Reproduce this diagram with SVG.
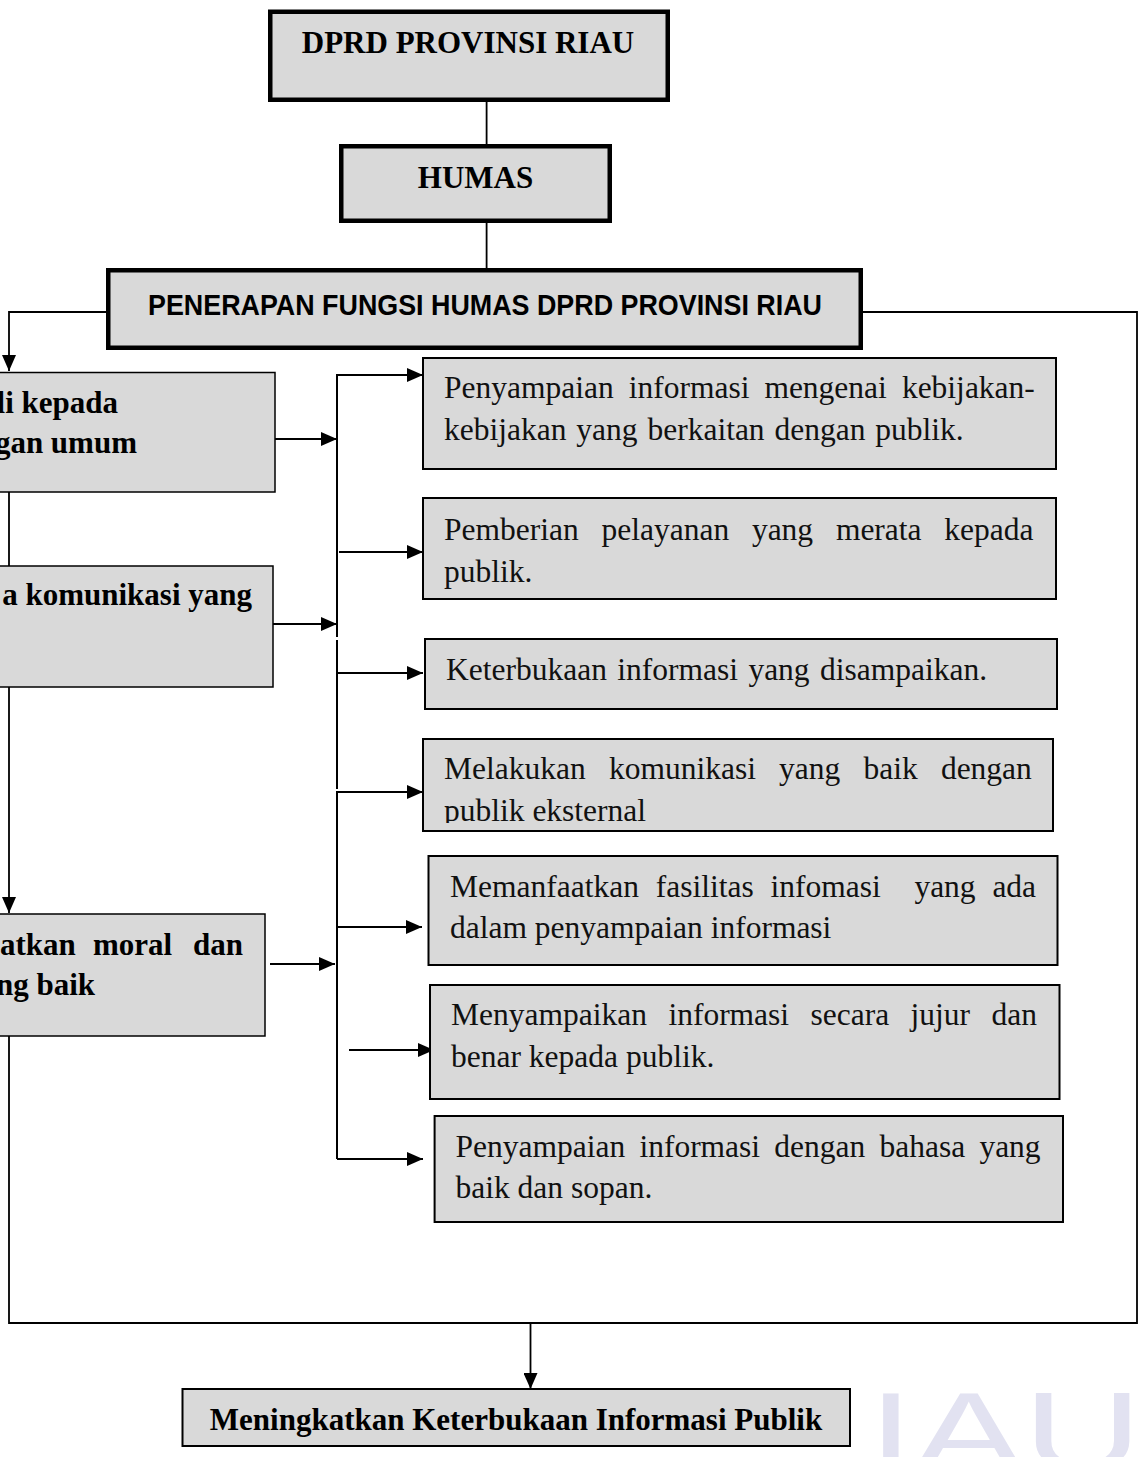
<svg xmlns="http://www.w3.org/2000/svg" width="1144" height="1457" viewBox="0 0 1144 1457">
<style>
.box{fill:#d9d9d9;stroke:#000;stroke-width:2}
.thick{fill:#d9d9d9;stroke:#000;stroke-width:4.5}
.thin{fill:#d9d9d9;stroke:#000;stroke-width:1.5}
.ln{fill:none;stroke:#000;stroke-width:2}
.fr{fill:none;stroke:#000;stroke-width:1.8}
.b{font-family:"Liberation Serif","Times New Roman",serif;font-weight:bold;font-size:31px;fill:#000}
.r{font-family:"Liberation Serif","Times New Roman",serif;font-size:31.5px;fill:#111}
.s{font-family:"Liberation Sans",Arial,sans-serif;font-weight:bold;font-size:30px;fill:#000}
</style>
<defs>
<marker id="ar" markerUnits="userSpaceOnUse" markerWidth="16" markerHeight="14" refX="16" refY="7" orient="auto">
<path d="M0,0 L16,7 L0,14 z" fill="#000"/>
</marker>
<clipPath id="c4"><rect x="423" y="739" width="630" height="84"/></clipPath>
</defs>
<rect width="1144" height="1457" fill="#fff"/>
<text x="868" y="1470" font-family="Liberation Sans,Arial,sans-serif" font-size="112" fill="#e2e2f1" textLength="274" lengthAdjust="spacingAndGlyphs">IAU</text>

<g id="connectors">
<path class="fr" d="M486.6,102 V144"/>
<path class="fr" d="M486.6,223 V268"/>
<path class="fr" d="M106,312 H9 V371" marker-end="url(#ar)"/>
<path class="fr" d="M9,492 V566"/>
<path class="fr" d="M9,687 V913" marker-end="url(#ar)"/>
<path class="fr" d="M863,312 H1137 V1323 H9 V1036"/>
<path class="fr" d="M530.5,1323 V1389" marker-end="url(#ar)"/>
<path class="ln" d="M337,637 V375 H423" marker-end="url(#ar)"/>
<path class="ln" d="M275,439 H337" marker-end="url(#ar)"/>
<path class="ln" d="M339,552 H423" marker-end="url(#ar)"/>
<path class="ln" d="M273,624 H337" marker-end="url(#ar)"/>
<path class="ln" d="M337,640 V789"/>
<path class="ln" d="M337,673 H423" marker-end="url(#ar)"/>
<path class="ln" d="M337,1159 V792 H423" marker-end="url(#ar)"/>
<path class="ln" d="M337,927 H422" marker-end="url(#ar)"/>
<path class="ln" d="M270,964 H335" marker-end="url(#ar)"/>
<path class="ln" d="M349,1050 H434" marker-end="url(#ar)"/>
<path class="ln" d="M337,1159 H423" marker-end="url(#ar)"/>
</g>

<g id="dprd">
<rect class="thick" x="270.25" y="11.75" width="397.5" height="88"/>
<text class="b" x="468" y="53" text-anchor="middle">DPRD PROVINSI RIAU</text>
</g>
<g id="humas">
<rect class="thick" x="341.25" y="146.25" width="268.5" height="74.5"/>
<text class="b" x="475.5" y="188" text-anchor="middle">HUMAS</text>
</g>
<g id="penerapan">
<rect class="thick" x="108.25" y="270.25" width="752.5" height="77.5"/>
<text class="s" x="148" y="315" textLength="674" lengthAdjust="spacingAndGlyphs">PENERAPAN FUNGSI HUMAS DPRD PROVINSI RIAU</text>
</g>

<g id="left-a">
<rect class="thin" x="-10" y="372.5" width="285" height="119.5"/>
<text class="b" x="118" y="413" text-anchor="end">li kepada</text>
<text class="b" x="137" y="453" text-anchor="end">gan umum</text>
</g>
<g id="left-b">
<rect class="thin" x="-10" y="566" width="283" height="121"/>
<text class="b" x="252" y="605" text-anchor="end">a komunikasi yang</text>
</g>
<g id="left-c">
<rect class="thin" x="-10" y="914" width="275" height="122"/>
<text class="b" y="955"><tspan x="0">atkan</tspan><tspan x="93">moral</tspan><tspan x="193">dan</tspan></text>
<text class="b" x="95" y="995" text-anchor="end">ng baik</text>
</g>

<g id="r1">
<rect class="box" x="423" y="358" width="633" height="111"/>
<text class="r" y="398"><tspan x="444">Penyampaian</tspan><tspan x="628.7">informasi</tspan><tspan x="764.4">mengenai</tspan><tspan x="901.9">kebijakan-</tspan></text>
<text class="r" x="444" y="440" word-spacing="2">kebijakan yang berkaitan dengan publik.</text>
</g>
<g id="r2">
<rect class="box" x="423" y="498" width="633" height="101"/>
<text class="r" y="540"><tspan x="444">Pemberian</tspan><tspan x="601.5">pelayanan</tspan><tspan x="751.9">yang</tspan><tspan x="835.9">merata</tspan><tspan x="944.3">kepada</tspan></text>
<text class="r" x="444" y="582">publik.</text>
</g>
<g id="r3">
<rect class="box" x="425" y="639" width="632" height="70"/>
<text class="r" x="446" y="680" word-spacing="2.5">Keterbukaan informasi yang disampaikan.</text>
</g>
<g id="r4">
<rect class="box" x="423" y="739" width="630" height="92"/>
<text class="r" y="779"><tspan x="444">Melakukan</tspan><tspan x="608.9">komunikasi</tspan><tspan x="779.1">yang</tspan><tspan x="863.5">baik</tspan><tspan x="940.9">dengan</tspan></text>
<text class="r" x="444" y="821" clip-path="url(#c4)">publik eksternal</text>
</g>
<g id="r5">
<rect class="box" x="428.5" y="856" width="629" height="109"/>
<text class="r" y="897"><tspan x="450">Memanfaatkan</tspan><tspan x="655.7">fasilitas</tspan><tspan x="770.5">infomasi</tspan><tspan x="914.4">yang</tspan><tspan x="992.4">ada</tspan></text>
<text class="r" x="450" y="938">dalam penyampaian informasi</text>
</g>
<g id="r6">
<rect class="box" x="430" y="985" width="629.5" height="114"/>
<text class="r" y="1025"><tspan x="451">Menyampaikan</tspan><tspan x="668.4">informasi</tspan><tspan x="810.5">secara</tspan><tspan x="910.6">jujur</tspan><tspan x="991.5">dan</tspan></text>
<text class="r" x="451" y="1067">benar kepada publik.</text>
</g>
<g id="r7">
<rect class="box" x="434.6" y="1116" width="628.4" height="106"/>
<text class="r" y="1157"><tspan x="455.5">Penyampaian</tspan><tspan x="639.4">informasi</tspan><tspan x="774.3">dengan</tspan><tspan x="879.5">bahasa</tspan><tspan x="979.4">yang</tspan></text>
<text class="r" x="455.5" y="1198">baik dan sopan.</text>
</g>

<g id="result">
<rect class="box" x="182.5" y="1389" width="667.5" height="57"/>
<text class="b" x="516" y="1430" text-anchor="middle">Meningkatkan Keterbukaan Informasi Publik</text>
</g>
</svg>
